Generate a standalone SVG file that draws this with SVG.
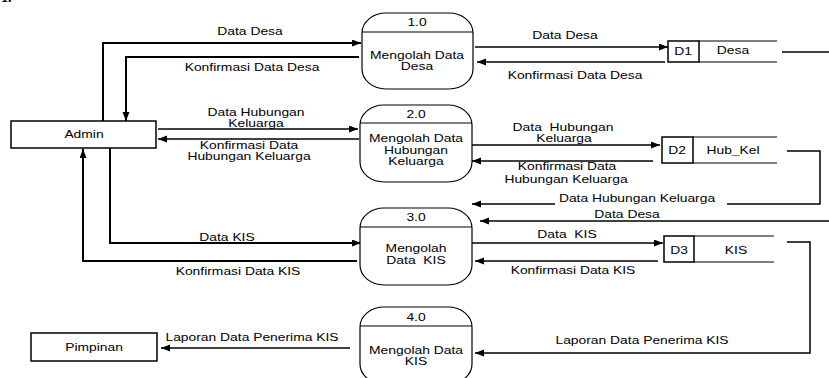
<svg xmlns="http://www.w3.org/2000/svg" width="829" height="378" viewBox="0 0 829 378">
<defs>
<marker id="ah" markerUnits="userSpaceOnUse" markerWidth="10" markerHeight="8" refX="9" refY="3.5" orient="auto">
<path d="M0,0 L9,3.5 L0,7 z" fill="#000"/>
</marker>
<style>
.t{font-family:"Liberation Sans",Arial,sans-serif;font-size:10.5px;fill:#000;text-anchor:middle}
.box{fill:#fff;stroke:#000;stroke-width:1.5}
.proc{fill:#fff;stroke:#000;stroke-width:1.2}
.ln{fill:none;stroke:#000;stroke-width:1.2}
.c{fill:none;stroke:#000;stroke-width:1.5;marker-end:url(#ah)}
.c2{fill:none;stroke:#000;stroke-width:2;marker-end:url(#ah)}
.cn{fill:none;stroke:#000;stroke-width:1.5}
</style>
</defs>
<rect width="829" height="378" fill="#fff"/>
<text x="1" y="2" style="font-family:'Liberation Serif',serif;font-weight:bold;font-size:14px">1.</text>

<g id="connectors">
<path class="c2" d="M103,121 V43 H361"/>
<path class="c2" d="M359,57 H126 V121"/>
<path class="c" d="M158,129 H358"/>
<path class="c" d="M359,139 H158"/>
<path class="c2" d="M110,148 V243 H361"/>
<path class="c2" d="M357,261 H83 V149"/>
<path class="c" d="M350,348 H161"/>
<path class="c" d="M475,47 H668"/>
<path class="c" d="M665,62 H477"/>
<path class="cn" d="M782,52 H829"/>
<path class="c" d="M472,145 H660"/>
<path class="c" d="M653,161 H472"/>
<path class="c" d="M787,151 H820 V204 H472"/>
<path class="c" d="M829,221 H480"/>
<path class="c" d="M472,243 H663"/>
<path class="c" d="M658,261 H475"/>
<path class="c" d="M787,242 H810 V353 H475"/>
<rect x="555" y="192" width="172" height="13" fill="#fff"/>
</g>

<g id="labels">
<text class="t" transform="translate(250 35) scale(1.32 1)">Data Desa</text>
<text class="t" transform="translate(252 71) scale(1.32 1)">Konfirmasi Data Desa</text>
<text class="t" transform="translate(256 116) scale(1.32 1)">Data Hubungan</text>
<text class="t" transform="translate(256 127) scale(1.32 1)">Keluarga</text>
<text class="t" transform="translate(249 149) scale(1.32 1)">Konfirmasi Data</text>
<text class="t" transform="translate(249 160) scale(1.32 1)">Hubungan Keluarga</text>
<text class="t" transform="translate(227 241) scale(1.32 1)">Data KIS</text>
<text class="t" transform="translate(238 275) scale(1.32 1)">Konfirmasi Data KIS</text>
<text class="t" transform="translate(252 341) scale(1.32 1)">Laporan Data Penerima KIS</text>
<text class="t" transform="translate(565 39) scale(1.32 1)">Data Desa</text>
<text class="t" transform="translate(575 79) scale(1.32 1)">Konfirmasi Data Desa</text>
<text class="t" xml:space="preserve" transform="translate(563 131) scale(1.32 1)">Data  Hubungan</text>
<text class="t" transform="translate(564 142) scale(1.32 1)">Keluarga</text>
<text class="t" transform="translate(567 170) scale(1.32 1)">Konfirmasi Data</text>
<text class="t" transform="translate(566 183) scale(1.32 1)">Hubungan Keluarga</text>
<text class="t" transform="translate(637 202) scale(1.32 1)">Data Hubungan Keluarga</text>
<text class="t" transform="translate(627 218) scale(1.32 1)">Data Desa</text>
<text class="t" xml:space="preserve" transform="translate(567 238) scale(1.32 1)">Data  KIS</text>
<text class="t" transform="translate(573 274) scale(1.32 1)">Konfirmasi Data KIS</text>
<text class="t" transform="translate(642 344) scale(1.32 1)">Laporan Data Penerima KIS</text>
</g>

<g id="admin">
<rect class="box" x="11" y="121" width="145" height="27"/>
<text class="t" transform="translate(84 138) scale(1.32 1)">Admin</text>
</g>
<g id="pimpinan">
<rect class="box" x="31" y="333" width="126" height="28"/>
<text class="t" transform="translate(94 351) scale(1.32 1)">Pimpinan</text>
</g>

<g id="p1">
<rect class="proc" x="362" y="13" width="111" height="76" rx="24" ry="20"/>
<line class="ln" x1="362" y1="32" x2="473" y2="32"/>
<text class="t" transform="translate(417 26) scale(1.32 1)">1.0</text>
<text class="t" transform="translate(417 59) scale(1.32 1)">Mengolah Data</text>
<text class="t" transform="translate(417 70) scale(1.32 1)">Desa</text>
</g>
<g id="p2">
<rect class="proc" x="360" y="105" width="112" height="77" rx="24" ry="20"/>
<line class="ln" x1="360" y1="123" x2="472" y2="123"/>
<text class="t" transform="translate(416 118) scale(1.32 1)">2.0</text>
<text class="t" transform="translate(416 142) scale(1.32 1)">Mengolah Data</text>
<text class="t" transform="translate(416 154) scale(1.32 1)">Hubungan</text>
<text class="t" transform="translate(416 165) scale(1.32 1)">Keluarga</text>
</g>
<g id="p3">
<rect class="proc" x="360" y="208" width="112" height="77" rx="24" ry="20"/>
<line class="ln" x1="360" y1="227" x2="472" y2="227"/>
<text class="t" transform="translate(416 221) scale(1.32 1)">3.0</text>
<text class="t" transform="translate(416 252) scale(1.32 1)">Mengolah</text>
<text class="t" xml:space="preserve" transform="translate(416 264) scale(1.32 1)">Data  KIS</text>
</g>
<g id="p4">
<rect class="proc" x="360" y="307" width="112" height="77" rx="24" ry="20"/>
<line class="ln" x1="360" y1="326" x2="472" y2="326"/>
<text class="t" transform="translate(416 321) scale(1.32 1)">4.0</text>
<text class="t" transform="translate(416 354) scale(1.32 1)">Mengolah Data</text>
<text class="t" transform="translate(416 365) scale(1.32 1)">KIS</text>
</g>

<g id="d1">
<rect class="box" x="668" y="41" width="31" height="21"/>
<line class="ln" x1="699" y1="41" x2="777" y2="41"/>
<line class="ln" x1="699" y1="62" x2="777" y2="62"/>
<text class="t" transform="translate(683 55) scale(1.32 1)">D1</text>
<text class="t" transform="translate(733 54) scale(1.32 1)">Desa</text>
</g>
<g id="d2">
<rect class="box" x="662" y="137" width="31" height="26"/>
<line class="ln" x1="693" y1="137" x2="777" y2="137"/>
<line class="ln" x1="693" y1="163" x2="777" y2="163"/>
<text class="t" transform="translate(677 154) scale(1.32 1)">D2</text>
<text class="t" transform="translate(733 154) scale(1.32 1)">Hub_Kel</text>
</g>
<g id="d3">
<rect class="box" x="664" y="236" width="30" height="26"/>
<line class="ln" x1="694" y1="236" x2="774" y2="236"/>
<line class="ln" x1="694" y1="262" x2="774" y2="262"/>
<text class="t" transform="translate(679 254) scale(1.32 1)">D3</text>
<text class="t" transform="translate(736 254) scale(1.32 1)">KIS</text>
</g>
</svg>
